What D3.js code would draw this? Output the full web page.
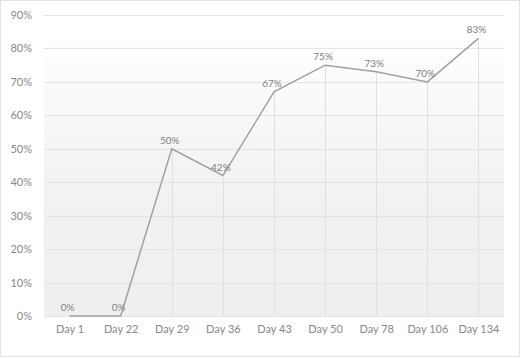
<!DOCTYPE html>
<html>
<head>
<meta charset="utf-8">
<script src="https://d3js.org/d3.v7.min.js"></script>
<style>
  body { margin: 0; background: #fff; }
  svg { display: block; }
  text { font-family: Lato, "Open Sans", sans-serif; }
</style>
</head>
<body>
<svg id="chart"></svg>
<script>
// data
var days = ["Day 1", "Day 22", "Day 29", "Day 36", "Day 43", "Day 50", "Day 78", "Day 106", "Day 134"];
var values = [0, 0, 50, 42, 67, 75, 73, 70, 83];
var yTicks = [0, 10, 20, 30, 40, 50, 60, 70, 80, 90];

var width = 520, height = 358;
var margin = { top: 15, right: 16, bottom: 42, left: 44 };
var innerW = width - margin.left - margin.right;
var innerH = height - margin.top - margin.bottom;

var svg = d3.select("#chart").attr("width", width).attr("height", height);

// outer frame
svg.append("rect")
    .attr("x", 0.5).attr("y", 0.5)
    .attr("width", width - 1).attr("height", height - 2)
    .attr("fill", "#fff").attr("stroke", "#e2e2e2");

var defs = svg.append("defs");
var grad = defs.append("linearGradient")
    .attr("id", "bg").attr("x1", 0).attr("y1", 0).attr("x2", 0).attr("y2", 1);
grad.append("stop").attr("offset", "0.07").attr("stop-color", "#ffffff");
grad.append("stop").attr("offset", "0.55").attr("stop-color", "#f1f2f2");
grad.append("stop").attr("offset", "1").attr("stop-color", "#eef0ef");

var g = svg.append("g").attr("transform", "translate(" + margin.left + "," + margin.top + ")");

var x = d3.scalePoint().domain(days).range([0, innerW]).padding(0.5);
var y = d3.scaleLinear().domain([0, 90]).range([innerH, 0]);

g.append("rect")
    .attr("width", innerW).attr("height", innerH)
    .attr("fill", "url(#bg)");

// horizontal grid
g.selectAll(".hgrid")
    .data(yTicks)
    .enter().append("line")
    .attr("x1", 0).attr("x2", innerW)
    .attr("y1", function (d) { return Math.round(y(d)) + 0.5; })
    .attr("y2", function (d) { return Math.round(y(d)) + 0.5; })
    .attr("stroke", "#e4e4e4");

// drop lines from points
g.selectAll(".drop")
    .data(values)
    .enter().append("line")
    .attr("x1", function (d, i) { return Math.round(x(days[i])) + 0.5; })
    .attr("x2", function (d, i) { return Math.round(x(days[i])) + 0.5; })
    .attr("y1", function (d) { return y(d); })
    .attr("y2", innerH)
    .attr("stroke", "#e0e0e0");

// y axis labels
var yAxis = d3.axisLeft(y).tickValues(yTicks).tickSize(0).tickPadding(12)
    .tickFormat(function (d) { return d + "%"; });
var ya = g.append("g").call(yAxis);
ya.select(".domain").remove();
ya.selectAll("text").attr("fill", "#888").style("font-size", "11px")
    .style("font-family", "Lato, 'Open Sans', sans-serif");

// x axis labels
var xAxis = d3.axisBottom(x).tickSize(0).tickPadding(9);
var xa = g.append("g").attr("transform", "translate(0," + innerH + ")").call(xAxis);
xa.select(".domain").remove();
xa.selectAll("text").attr("fill", "#888").style("font-size", "11px")
    .style("font-family", "Lato, 'Open Sans', sans-serif");

// line
var line = d3.line()
    .x(function (d, i) { return x(days[i]); })
    .y(function (d) { return y(d); });

g.append("path")
    .datum(values)
    .attr("d", line)
    .attr("fill", "none")
    .attr("stroke", "#a0a0a0")
    .attr("stroke-width", 1.5);

// value labels
g.selectAll(".lbl")
    .data(values)
    .enter().append("text")
    .attr("x", function (d, i) { return x(days[i]) - 2; })
    .attr("y", function (d) { return y(d) - 5; })
    .attr("text-anchor", "middle")
    .attr("fill", "#808080")
    .style("font-size", "10px")
    .text(function (d) { return d + "%"; });
</script>
</body>
</html>
